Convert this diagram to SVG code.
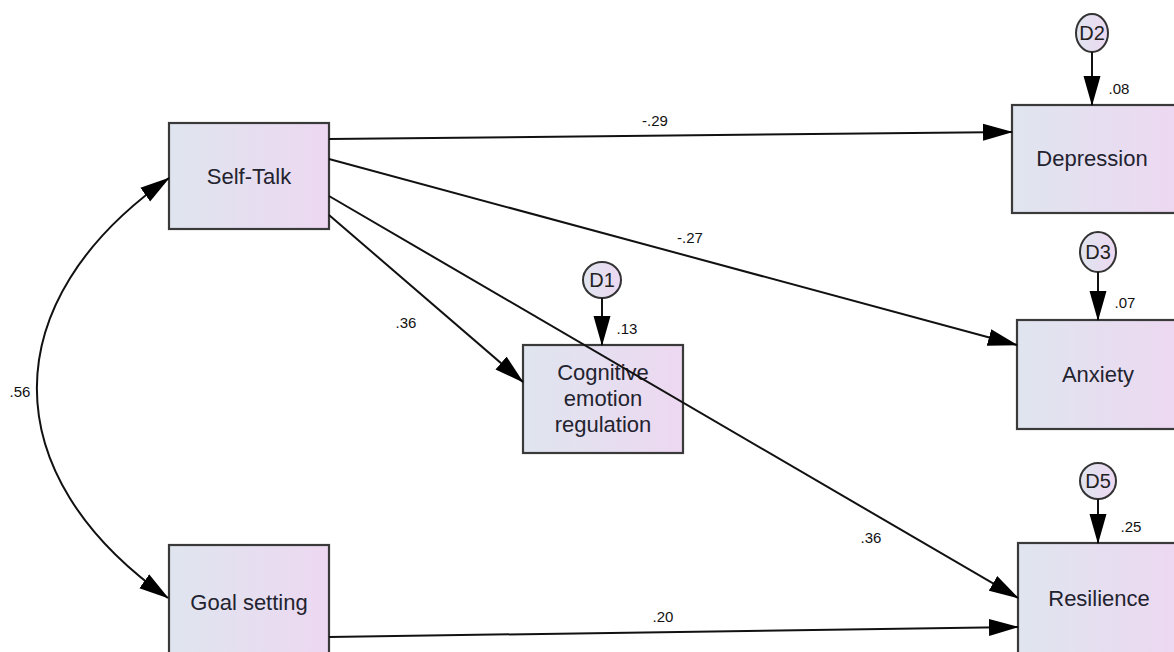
<svg xmlns="http://www.w3.org/2000/svg" width="1174" height="652" viewBox="0 0 1174 652">
<defs>
<linearGradient id="fillG" x1="0" y1="0" x2="1" y2="0">
<stop offset="0" stop-color="#dfe5ef"/>
<stop offset="1" stop-color="#edd8f1"/>
</linearGradient>
<marker id="arr" markerUnits="userSpaceOnUse" markerWidth="30" markerHeight="18" refX="29" refY="8.5" orient="auto-start-reverse" viewBox="0 0 30 17">
<path d="M0,0 L30,8.5 L0,17 z" fill="#000"/>
</marker>
<style>
.box{fill:url(#fillG);stroke:#3a3a3a;stroke-width:2.2}
.dist{fill:url(#fillG);stroke:#333;stroke-width:2}
.nt{font-family:"Liberation Sans",Arial,sans-serif;font-size:22px;fill:#23232f;text-anchor:middle}
.dt{font-family:"Liberation Sans",Arial,sans-serif;font-size:20px;fill:#222;text-anchor:middle}
.lb{font-family:"Liberation Sans",Arial,sans-serif;font-size:15px;fill:#111;text-anchor:middle}
.c{fill:none;stroke:#111;stroke-width:2;marker-end:url(#arr)}
</style>
</defs>
<rect width="1174" height="652" fill="#fff"/>

<g id="self-talk">
<rect class="box" x="169" y="123" width="160" height="106"/>
<text class="nt" x="249" y="184">Self-Talk</text>
</g>
<g id="goal-setting">
<rect class="box" x="169" y="545" width="160" height="112"/>
<text class="nt" x="249" y="610">Goal setting</text>
</g>
<g id="cognitive">
<rect class="box" x="523" y="345" width="160" height="108"/>
<text class="nt" x="603" y="380">Cognitive</text>
<text class="nt" x="603" y="406">emotion</text>
<text class="nt" x="603" y="432">regulation</text>
</g>
<g id="depression">
<rect class="box" x="1012" y="105" width="166" height="108"/>
<text class="nt" x="1092" y="166">Depression</text>
</g>
<g id="anxiety">
<rect class="box" x="1017" y="320" width="162" height="109"/>
<text class="nt" x="1098" y="382">Anxiety</text>
</g>
<g id="resilience">
<rect class="box" x="1018" y="543" width="162" height="112"/>
<text class="nt" x="1099" y="606">Resilience</text>
</g>
<g id="D2">
<ellipse class="dist" cx="1092" cy="33" rx="16" ry="19"/>
<text class="dt" x="1092" y="40">D2</text>
</g>
<g id="D3">
<ellipse class="dist" cx="1098" cy="252" rx="18" ry="20"/>
<text class="dt" x="1098" y="259">D3</text>
</g>
<g id="D1">
<ellipse class="dist" cx="602" cy="280" rx="19" ry="18"/>
<text class="dt" x="602" y="287">D1</text>
</g>
<g id="D5">
<ellipse class="dist" cx="1098" cy="481" rx="18" ry="18"/>
<text class="dt" x="1098" y="488">D5</text>
</g>

<g id="connectors">
<path class="c" d="M329,139 L1012,132"/>
<path class="c" d="M329,159 L1017,345"/>
<path class="c" d="M329,215 L523,382"/>
<path class="c" d="M329,196 L1018,598"/>
<path class="c" d="M329,637 L1018,627"/>
<path class="c" d="M169,178 C -7,301 -7,475 168,598" marker-start="url(#arr)"/>
<path class="c" d="M1092,52 L1092,105"/>
<path class="c" d="M1098,272 L1098,320"/>
<path class="c" d="M602,298 L602,345"/>
<path class="c" d="M1098,499 L1098,543"/>
<text class="lb" x="655" y="126">-.29</text>
<text class="lb" x="690" y="243">-.27</text>
<text class="lb" x="406" y="328">.36</text>
<text class="lb" x="871" y="543">.36</text>
<text class="lb" x="663" y="622">.20</text>
<text class="lb" x="20" y="397">.56</text>
<text class="lb" x="1119" y="94">.08</text>
<text class="lb" x="627" y="334">.13</text>
<text class="lb" x="1125" y="308">.07</text>
<text class="lb" x="1131" y="532">.25</text>
</g>
</svg>
